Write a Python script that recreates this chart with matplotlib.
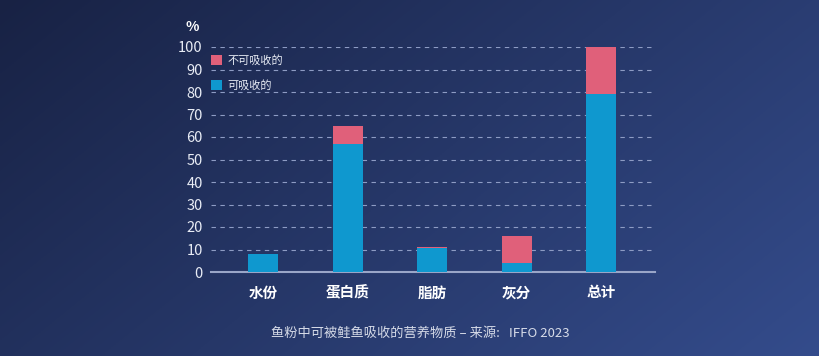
import matplotlib
matplotlib.use("Agg")
import matplotlib.pyplot as plt
import numpy as np

plt.rcParams['font.family'] = ['Noto Sans CJK SC', 'DejaVu Sans']

categories = ['水份', '蛋白质', '脂肪', '灰分', '总计']
absorbable = [8, 57, 10.5, 4, 79]
non_absorbable = [0, 8, 0.5, 12, 21]
yticks = [0, 10, 20, 30, 40, 50, 60, 70, 80, 90, 100]

blue = '#0f98cf'
pink = '#e0607a'
txt = '#e8ecf5'

fig = plt.figure(figsize=(8.2, 3.56), dpi=100)

# background gradient
bg = fig.add_axes([0, 0, 1, 1], zorder=-10)
h, w = 200, 460
yy, xx = np.mgrid[0:h, 0:w]
t = (xx / w * 0.65 + yy / h * 0.35)
c0 = np.array([0x18, 0x22, 0x44]) / 255
c1 = np.array([0x34, 0x4c, 0x8c]) / 255
img = c0[None, None, :] * (1 - t[..., None]) + c1[None, None, :] * t[..., None]
bg.imshow(img, aspect='auto', extent=[0, 1, 0, 1], origin='upper')
bg.axis('off')

ax = fig.add_axes([211/820, 1 - 272/356, 444/820, 225/356])
ax.set_facecolor('none')
x = np.arange(len(categories))
ax.bar(x, absorbable, width=0.355, color=blue, zorder=3, label='可吸收的')
ax.bar(x, non_absorbable, width=0.355, bottom=absorbable, color=pink, zorder=3, label='不可吸收的')
ax.set_xlim(-0.62, 4.64)
ax.set_ylim(0, 100)
ax.set_yticks(yticks)
ax.set_yticklabels([str(v) for v in yticks], color=txt, fontsize=10.5)
ax.set_xticks(x)
ax.set_xticklabels(categories, color='white', fontsize=10.5, fontweight='bold')
ax.tick_params(axis='both', length=0)
ax.tick_params(axis='y', pad=6)
ax.tick_params(axis='x', pad=9)
for v in yticks[1:]:
    ax.axhline(v, color='#8e9cc4', lw=0.8, ls=(0, (4, 4)), zorder=1)
for s in ['top', 'right', 'left']:
    ax.spines[s].set_visible(False)
ax.spines['bottom'].set_color('#9aa6c8')
ax.spines['bottom'].set_linewidth(1.5)
ax.text(-0.043, 1.089, '%', transform=ax.transAxes, color='white', fontsize=10,
        fontweight='bold', ha='center', va='center')

h1, l1 = ax.get_legend_handles_labels()
leg = ax.legend(h1[::-1], l1[::-1], loc='upper left', bbox_to_anchor=(-0.01, 0.985), frameon=False,
                fontsize=8, labelcolor=txt, handlelength=1.0, handleheight=1.0,
                handletextpad=0.5, labelspacing=1.25, borderaxespad=0)

fig.text(0.513, 1 - 333/356, '鱼粉中可被鲑鱼吸收的营养物质 – 来源:   IFFO 2023', color='#d6dbe8',
         fontsize=9.5, ha='center', va='center')

fig.savefig('out.png', dpi=100)
